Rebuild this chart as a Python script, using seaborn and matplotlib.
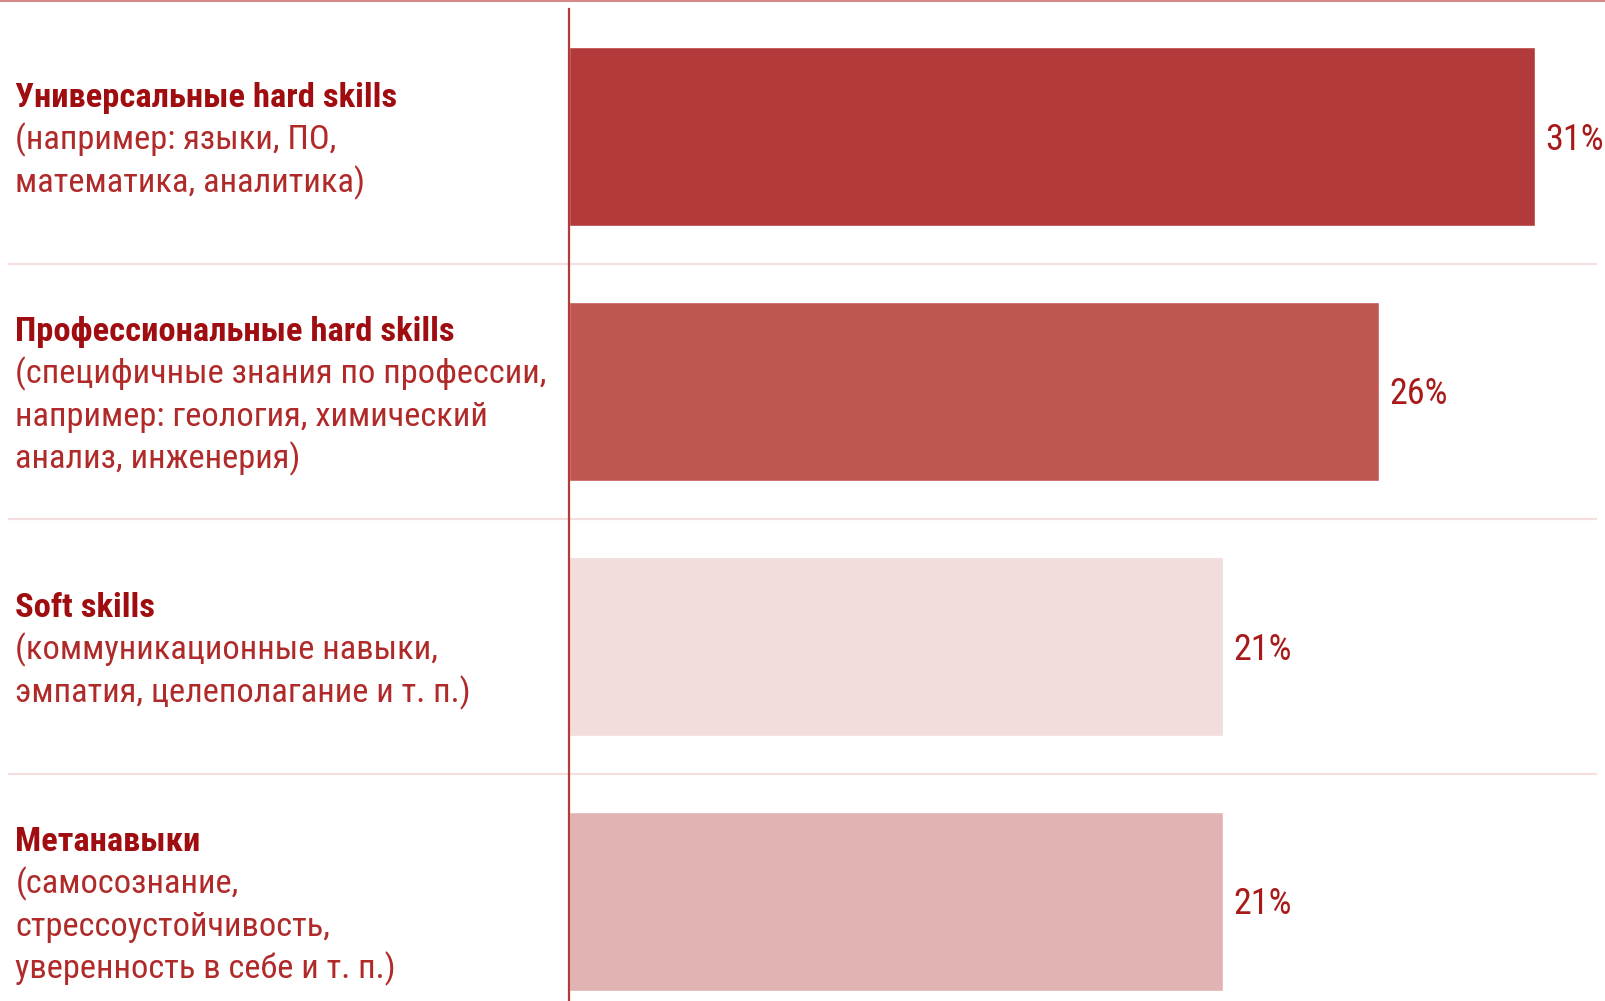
import matplotlib
matplotlib.use("Agg")
import matplotlib.pyplot as plt
import seaborn as sns

# data
titles = ["Универсальные hard skills", "Профессиональные hard skills", "Soft skills", "Метанавыки"]
descriptions = [
    ["(например: языки, ПО,", "математика, аналитика)"],
    ["(специфичные знания по профессии,", "например: геология, химический", "анализ, инженерия)"],
    ["(коммуникационные навыки,", "эмпатия, целеполагание и т. п.)"],
    ["(самосознание,", "стрессоустойчивость,", "уверенность в себе и т. п.)"],
]
shares = [31, 26, 21, 21]
bar_colors = ["#B33A3A", "#BE5651", "#F2DCDC", "#E2B3B3"]

title_color = "#A00D10"
desc_color = "#B02A2A"
fonts = ["Roboto Condensed", "Liberation Sans Narrow", "Roboto", "DejaVu Sans"]

sns.set_theme(style="white")
plt.rcParams["font.family"] = fonts

fig = plt.figure(figsize=(16.05, 10.01), dpi=100)
W, H = 1605, 1001
left_px, top_px, bottom_px = 569, 9, 1029
ax = fig.add_axes([left_px / W, 1 - bottom_px / H, 1 - left_px / W, (bottom_px - top_px) / H])

sns.barplot(x=shares, y=titles, hue=titles, palette=bar_colors, orient="h",
            width=0.703, legend=False, ax=ax, saturation=1)

ax.set_xlim(0, (W - left_px) / 31.16)
ax.set_ylim(3.5, -0.5)
ax.set_xticks([])
ax.set_yticks([])
ax.set_xlabel("")
ax.set_ylabel("")
for s in ["top", "right", "bottom"]:
    ax.spines[s].set_visible(False)
ax.spines["left"].set_color("#B23A3A")
ax.spines["left"].set_linewidth(1.6)

# light separators between groups
ax.hlines([0.5, 1.5, 2.5], xmin=(8 - left_px) / (W - left_px), xmax=(1597 - left_px) / (W - left_px),
          transform=ax.get_yaxis_transform(), color="#F6DEDE", lw=1.6, clip_on=False, zorder=0)

# top rule
fig.add_artist(plt.Line2D([0, 1], [1 - 1 / H, 1 - 1 / H], color="#D88A8A", lw=1.5))

# value labels
for i, v in enumerate(shares):
    ax.annotate(f"{v}%", xy=(v, i), xytext=(10.2 * 0.72, -3 * 0.72), textcoords="offset points",
                va="center", ha="left", fontsize=26, color="#A81A1A")

# left text blocks
line_px = 42.5
x_text = (15.4 - left_px) / (W - left_px)
for i, (t, desc) in enumerate(zip(titles, descriptions)):
    lines = [t] + desc
    n = len(lines)
    for j, line in enumerate(lines):
        dy_px = (j - (n - 1) / 2) * line_px + 13
        ax.annotate(line, xy=(x_text, i), xycoords=ax.get_yaxis_transform(),
                    xytext=(0, -dy_px * 0.72), textcoords="offset points",
                    ha="left", va="baseline", fontsize=24.8,
                    fontweight="bold" if j == 0 else "normal",
                    color=title_color if j == 0 else desc_color,
                    annotation_clip=False)

fig.savefig("out.png", dpi=100)
